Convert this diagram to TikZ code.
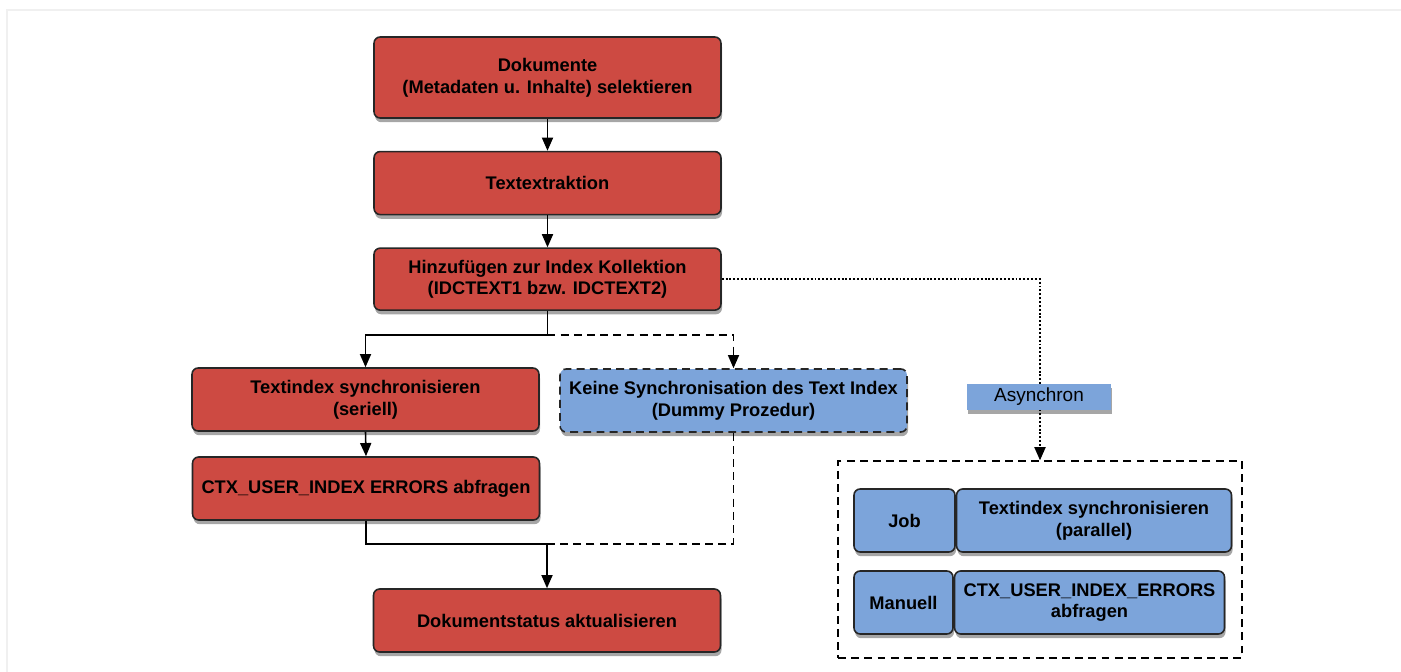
\documentclass[tikz,border=0pt]{standalone}
\usepackage{fontspec}
\setmainfont{Liberation Sans}
\usetikzlibrary{arrows.meta, positioning, shadows}
\definecolor{flowred}{RGB}{205,74,66}
\definecolor{flowblue}{RGB}{124,164,218}

\begin{document}
\begin{tikzpicture}[x=0.02cm, y=-0.02cm,
    every node/.style={align=center, font=\fontsize{10.4}{12.3}\selectfont\bfseries},
    redbox/.style={draw=black!85, rounded corners=3.5pt, fill=flowred, line width=0.9pt,
                   minimum width=6.94cm, minimum height=1.26cm, inner sep=0pt,
                   drop shadow={shadow xshift=0.6pt, shadow yshift=-2.4pt, opacity=0.35, fill=black}},
    bluebox/.style={redbox, fill=flowblue},
    tagbox/.style={fill=flowblue, inner sep=0pt, minimum width=2.88cm, minimum height=0.52cm,
                   font=\fontsize{10.8}{12.3}\selectfont,
                   drop shadow={shadow xshift=0.6pt, shadow yshift=-2.4pt, opacity=0.35, fill=black}},
    arr/.style={-{Triangle[length=7.5pt, width=6.3pt]}, line width=0.9pt},
    dashline/.style={dash pattern=on 4.5pt off 3pt},
    dotline/.style={dash pattern=on 1.1pt off 1.1pt, line width=1pt}
  ]
    \useasboundingbox (0,0) rectangle (1401,672);
    \draw[black!6, line width=1.5pt] (7,672) |- (1401,10);

    % main column
    \node[redbox, minimum height=1.62cm] (dok) at (547.5,77.5) {Dokumente\\(Metadaten u. Inhalte) selektieren};
    \node[redbox, below=0.64cm of dok] (ext) {Textextraktion};
    \node[redbox, below=0.64cm of ext, minimum height=1.24cm] (hinz) {Hinzufügen zur Index Kollektion\\(IDCTEXT1 bzw. IDCTEXT2)};
    \node[redbox] (seriell) at (365.5,399.5) {Textindex synchronisieren\\(seriell)};
    \node[bluebox, dashline] (keine) at (733.5,400.5) {Keine Synchronisation des Text Index\\(Dummy Prozedur)};
    \node[redbox] (ctx) at (366,488.5) {CTX\_USER\_INDEX ERRORS abfragen};
    \node[redbox] (status) at (547,620.5) {Dokumentstatus aktualisieren};

    % asynchronous part
    \node[draw, dashline, line width=0.8pt, minimum width=8.08cm, minimum height=3.94cm] (pool) at (1040,559.5) {};
    \node[bluebox, minimum width=2.02cm] (job) at (904.5,520.5) {Job};
    \node[bluebox, right=0pt of job, minimum width=5.5cm] (par) {Textindex synchronisieren\\(parallel)};
    \node[bluebox, minimum width=1.98cm] (man) at (903.5,602.5) {Manuell};
    \node[bluebox, right=0pt of man, minimum width=5.4cm] (ctxm) {CTX\_USER\_INDEX\_ERRORS\\abfragen};

    \coordinate (split) at (547.5,335);
    \coordinate (merge) at (547,544);

    \draw[arr] (dok) -- (ext);
    \draw[arr] (ext) -- (hinz);
    \draw[line width=0.9pt] (hinz.south) -- (split);
    \draw[arr] (split) -| (seriell.north);
    \draw[arr, dashline] (split) -| (keine.north);
    \draw[arr] (seriell.south) -- (ctx.north);
    \draw[arr] (ctx.south) |- (merge) -- (status.north);
    \draw[dashline, line width=0.9pt] (keine.south) |- (merge);
    \draw[arr, dotline] (hinz.east) -| (pool.north);

    \node[tagbox] (async) at (1039,397) {Asynchron};
\end{tikzpicture}
\end{document}
